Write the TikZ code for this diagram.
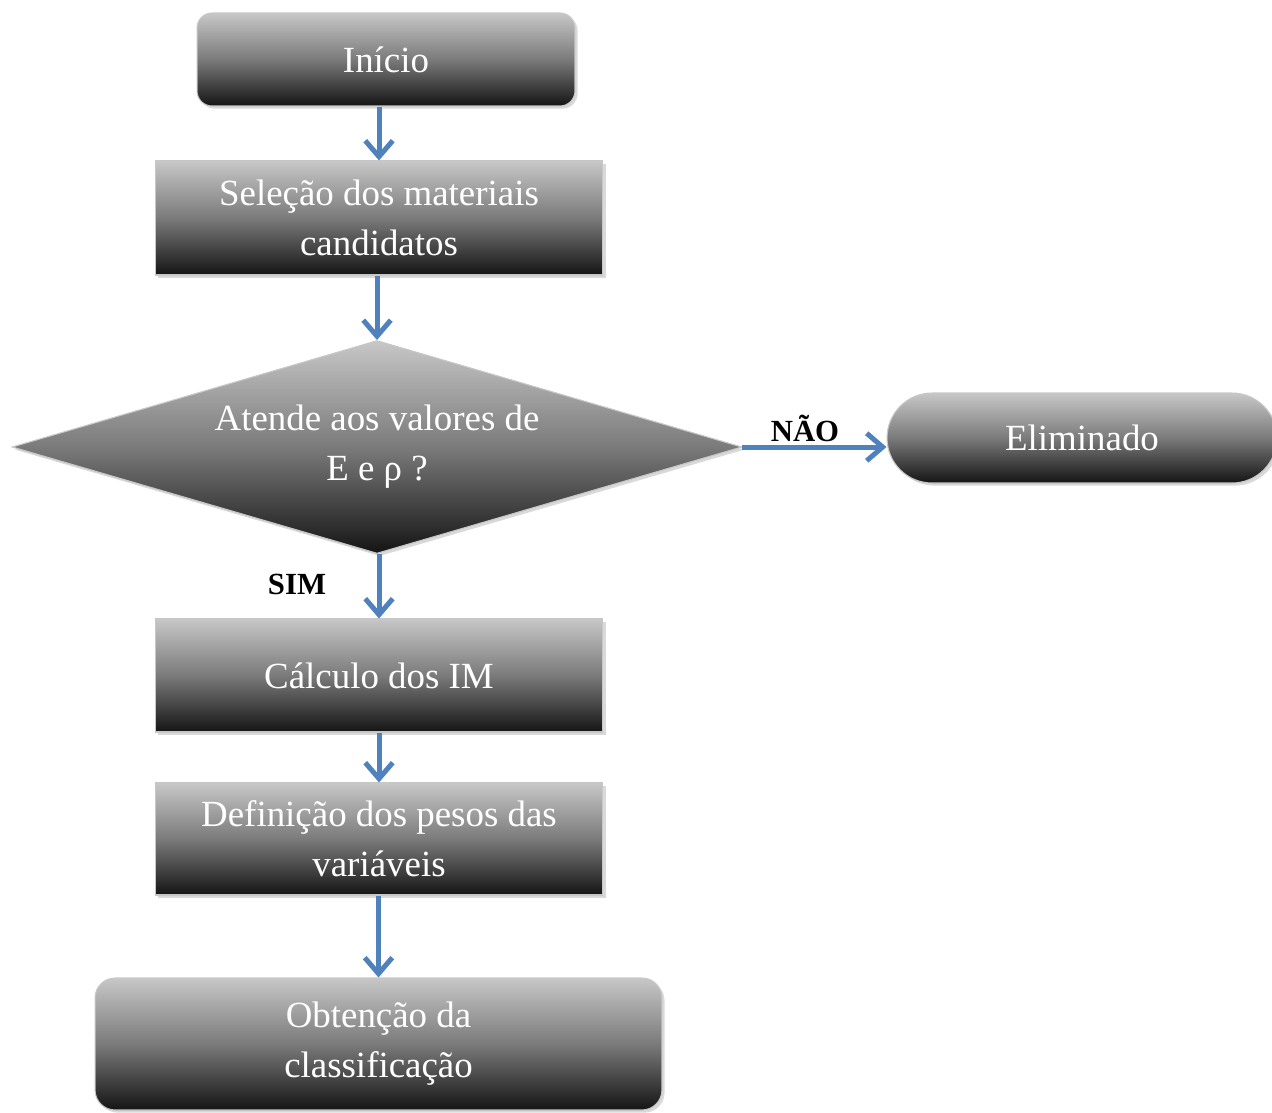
\documentclass[tikz,border=0pt]{standalone}
\usepackage{fontspec}
\setmainfont{Liberation Serif}
\usetikzlibrary{shapes.geometric,arrows.meta,shadows}
\definecolor{seta}{RGB}{79,129,189}

\begin{document}
\begin{tikzpicture}[
    x=0.02cm, y=-0.02cm,
    font=\fontsize{21}{28.5}\selectfont,
    box/.style={rectangle, draw=black!22, line width=0.6pt,
                top color=black!22, bottom color=black!92, middle color=black!52,
                text=white, align=center, inner sep=0pt,
                drop shadow={opacity=0.3, shadow xshift=1.5pt, shadow yshift=-1.5pt}},
    proc/.style={box, minimum width=8.96cm},
    term/.style={box, rounded corners=0.3cm},
    decision/.style={box, diamond, aspect=3.4,
                     minimum width=14.6cm, minimum height=4.26cm},
    label/.style={font=\fontsize{17.5}{20}\selectfont\bfseries, text=black},
    arrow/.style={-{Straight Barb[length=0.32cm, width=0.55cm]},
                  draw=seta, line width=0.1cm}
]
\useasboundingbox (0,0) rectangle (1272,1113);

%–––– NODES –––––––––––––––––––––––––––––––––––––––––
\node (inicio)    [term, minimum width=7.56cm, minimum height=1.86cm] at (386,59.5) {Início};
\node (selecao)   [proc, minimum height=2.28cm] at (379,218) {Seleção dos materiais\\candidatos};
\node (teste)     [decision] at (377,447) {Atende aos valores de\\E e ρ ?};
\node (elim)      [term, rounded corners=0.9cm, minimum width=7.8cm,
                   minimum height=1.8cm] at (1082,438) {Eliminado};
\node (calculo)   [proc, minimum height=2.26cm] at (379,675.5) {Cálculo dos IM};
\node (definicao) [proc, minimum height=2.24cm] at (379,839) {Definição dos pesos das\\variáveis};
\node (obtencao)  [term, rounded corners=0.4cm, minimum width=11.34cm,
                   minimum height=2.64cm] at (378.5,1044) {Obtenção da\\classificação};

%–––– ARROWS ––––––––––––––––––––––––––––––––––––––––
\foreach \a/\b in {inicio/selecao, selecao/teste, teste/calculo,
                   calculo/definicao, definicao/obtencao}
  \draw[arrow] (\a.south -| \b.north) -- (\b.north);

\draw[arrow] (teste.east) -- (teste.east -| elim.west);

% LABELS
\node (nao) [label] at (805,428) {NÃO};
\node (sim) [label] at (297,584) {SIM};
\end{tikzpicture}
\end{document}
